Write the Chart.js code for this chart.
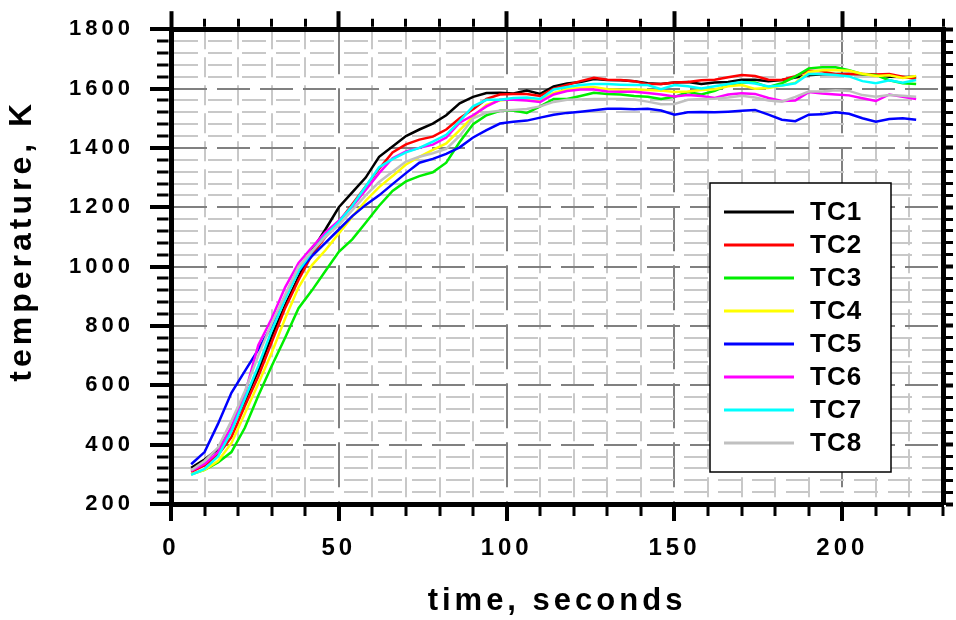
<!DOCTYPE html>
<html>
<head>
<meta charset="utf-8">
<title>TC temperatures</title>
<script src="https://cdn.jsdelivr.net/npm/chart.js@4.4.0/dist/chart.umd.min.js"></script>
<style>
  html, body { margin: 0; padding: 0; background: #fff; }
  canvas { display: block; }
</style>
</head>
<body>
<canvas id="tempChart" width="956" height="620"></canvas>
<script>
// time (s) and thermocouple readings (K)
const times = [6, 10, 14, 18, 22, 26, 30, 34, 38, 42, 46, 50, 54, 58, 62, 66, 70, 74, 78, 82,
    86, 90, 94, 98, 102, 106, 110, 114, 118, 122, 126, 130, 134, 138, 142, 146, 150, 154, 158, 162,
    166, 170, 174, 178, 182, 186, 190, 194, 198, 202, 206, 210, 214, 218, 222];

const tc1 = [322, 350, 385, 453, 546, 650, 765, 870, 965, 1055, 1125, 1200, 1250, 1300, 1370, 1405, 1440, 1462, 1482, 1510,
    1550, 1572, 1585, 1586, 1583, 1593, 1582, 1607, 1617, 1622, 1632, 1629, 1628, 1625, 1618, 1615, 1620, 1622, 1615, 1620,
    1622, 1630, 1630, 1625, 1629, 1637, 1645, 1648, 1649, 1649, 1648, 1646, 1640, 1639, 1640];
const tc2 = [308, 330, 365, 425, 530, 630, 745, 860, 955, 1040, 1100, 1150, 1210, 1270, 1330, 1385, 1412, 1428, 1438, 1462,
    1500, 1530, 1565, 1580, 1582, 1582, 1575, 1600, 1612, 1625, 1636, 1630, 1629, 1625, 1615, 1615, 1620, 1622, 1628, 1630,
    1638, 1646, 1642, 1630, 1629, 1642, 1660, 1658, 1648, 1649, 1649, 1647, 1649, 1640, 1632];
const tc3 = [300, 315, 340, 375, 457, 565, 665, 760, 860, 920, 985, 1050, 1092, 1148, 1205, 1255, 1287, 1305, 1318, 1350,
    1420, 1480, 1510, 1525, 1526, 1518, 1540, 1565, 1565, 1575, 1586, 1582, 1580, 1575, 1572, 1565, 1572, 1588, 1580, 1592,
    1612, 1620, 1620, 1605, 1618, 1640, 1668, 1672, 1672, 1662, 1648, 1645, 1628, 1618, 1615];
const tc4 = [300, 315, 345, 405, 505, 605, 710, 825, 930, 1005, 1055, 1112, 1168, 1222, 1268, 1305, 1344, 1370, 1393, 1415,
    1460, 1505, 1545, 1560, 1565, 1565, 1560, 1585, 1598, 1603, 1605, 1598, 1596, 1598, 1595, 1593, 1588, 1590, 1595, 1598,
    1608, 1612, 1599, 1602, 1610, 1620, 1656, 1662, 1662, 1660, 1650, 1642, 1645, 1636, 1642];
const tc5 = [334, 375, 470, 575, 648, 720, 800, 900, 985, 1035, 1080, 1125, 1170, 1208, 1240, 1278, 1315, 1350, 1363, 1380,
    1402, 1435, 1460, 1482, 1488, 1492, 1502, 1512, 1518, 1522, 1527, 1532, 1532, 1530, 1532, 1526, 1512, 1520, 1521, 1520,
    1522, 1525, 1528, 1512, 1495, 1490, 1512, 1513, 1520, 1515, 1500, 1488, 1497, 1500, 1495];
const tc6 = [312, 335, 375, 460, 570, 735, 825, 930, 1012, 1065, 1115, 1155, 1202, 1258, 1315, 1365, 1388, 1400, 1411, 1435,
    1485, 1510, 1540, 1562, 1562, 1560, 1555, 1580, 1592, 1597, 1597, 1590, 1589, 1589, 1585, 1580, 1573, 1578, 1575, 1568,
    1580, 1584, 1582, 1568, 1558, 1560, 1588, 1583, 1580, 1577, 1567, 1558, 1580, 1572, 1565];
const tc7 = [298, 318, 360, 445, 555, 665, 785, 890, 985, 1050, 1105, 1150, 1205, 1270, 1335, 1362, 1385, 1400, 1421, 1444,
    1490, 1540, 1562, 1562, 1568, 1570, 1565, 1597, 1605, 1612, 1615, 1615, 1613, 1612, 1612, 1598, 1612, 1608, 1600, 1608,
    1615, 1622, 1617, 1607, 1610, 1618, 1649, 1649, 1646, 1641, 1625, 1618, 1628, 1620, 1629];
const tc8 = [314, 345, 390, 480, 580, 700, 808, 905, 1000, 1052, 1100, 1140, 1190, 1240, 1285, 1320, 1354, 1370, 1382, 1397,
    1440, 1500, 1519, 1525, 1528, 1531, 1540, 1555, 1562, 1563, 1565, 1565, 1565, 1563, 1556, 1547, 1548, 1562, 1565, 1566,
    1570, 1576, 1570, 1560, 1556, 1572, 1590, 1590, 1594, 1592, 1578, 1572, 1578, 1576, 1572];

const seriesNames = ['TC1', 'TC2', 'TC3', 'TC4', 'TC5', 'TC6', 'TC7', 'TC8'];
const seriesValues = [tc1, tc2, tc3, tc4, tc5, tc6, tc7, tc8];
const seriesColors = ['#000000', '#ff0000', '#00ee00', '#ffff00', '#0000ff', '#ff00ff', '#00ffff', '#c0c0c0'];

const xTickLabels = [0, 50, 100, 150, 200];
const yTickLabels = [200, 400, 600, 800, 1000, 1200, 1400, 1600, 1800];

const FONT = "'Liberation Sans', Arial, sans-serif";
const MAJOR_GRID = '#808080';
const MINOR_GRID = '#c8c8c8';

function isMajor(c, step) {
    return c.tick !== undefined && c.tick.value % step === 0;
}

// wide, heavy lettering like the original figure
const textSpacing = {
    id: 'textSpacing',
    beforeDraw(chart) {
        chart.ctx.letterSpacing = '4px';
    }
};

// boxed legend sitting inside the plot
const legendBox = {
    id: 'legendBox',
    afterDatasetsDraw(chart) {
        const ctx = chart.ctx;
        const left = 710, top = 183, width = 181, height = 289;
        ctx.save();
        ctx.fillStyle = '#ffffff';
        ctx.fillRect(left, top, width, height);
        ctx.strokeStyle = '#000000';
        ctx.lineWidth = 1.5;
        ctx.strokeRect(left, top, width, height);
        ctx.font = 'bold 26px ' + FONT;
        ctx.letterSpacing = '1px';
        ctx.textBaseline = 'middle';
        ctx.textAlign = 'left';
        chart.data.datasets.forEach((ds, i) => {
            const y = top + 29 + i * 33;
            ctx.strokeStyle = ds.borderColor;
            ctx.lineWidth = 3;
            ctx.beginPath();
            ctx.moveTo(left + 14, y);
            ctx.lineTo(left + 84, y);
            ctx.stroke();
            ctx.fillStyle = '#000000';
            ctx.fillText(ds.label, left + 100, y + 1);
        });
        ctx.restore();
    }
};

const datasets = seriesNames.map((name, i) => ({
    label: name,
    data: times.map((t, j) => ({ x: t, y: seriesValues[i][j] })),
    borderColor: seriesColors[i],
    backgroundColor: seriesColors[i],
    borderWidth: 2.5,
    pointRadius: 0,
    tension: 0,
    order: seriesNames.length - i
}));

new Chart(document.getElementById('tempChart'), {
    type: 'line',
    data: { datasets },
    plugins: [textSpacing, legendBox],
    options: {
        responsive: false,
        animation: false,
        devicePixelRatio: 1,
        layout: { padding: 0 },
        plugins: {
            legend: { display: false },
            tooltip: { enabled: false }
        },
        scales: {
            x: {
                type: 'linear',
                position: 'bottom',
                min: 0,
                max: 230,
                afterFit: s => { s.height = 116; },
                ticks: {
                    stepSize: 10,
                    autoSkip: false,
                    maxRotation: 0,
                    maxTicksLimit: 100,
                    padding: 13,
                    color: '#000',
                    font: { family: FONT, size: 24, weight: 'bold' },
                    callback: v => xTickLabels.includes(v) ? String(v) : ''
                },
                grid: {
                    color: c => isMajor(c, 50) ? MAJOR_GRID : MINOR_GRID,
                    lineWidth: 2,
                    tickLength: 17,
                    tickColor: '#000',
                    tickWidth: c => isMajor(c, 50) ? 4 : 3,
                    tickBorderDash: c => isMajor(c, 50) ? [] : [9, 100]
                },
                border: {
                    color: '#000',
                    width: 5,
                    dash: c => c.tick === undefined ? [] : (isMajor(c, 50) ? [45, 14] : [20, 8])
                },
                title: {
                    display: true,
                    text: 'time, seconds',
                    color: '#000',
                    font: { family: FONT, size: 31, weight: 'bold' },
                    padding: 0
                }
            },
            xTop: {
                type: 'linear',
                position: 'top',
                min: 0,
                max: 230,
                afterFit: s => { s.height = 26; },
                ticks: { display: false, stepSize: 10, autoSkip: false, maxTicksLimit: 100 },
                grid: {
                    drawOnChartArea: false,
                    tickLength: 18,
                    tickColor: '#000',
                    tickWidth: c => isMajor(c, 50) ? 4 : 3,
                    tickBorderDash: c => isMajor(c, 50) ? [] : [0, 7.5, 8, 100]
                },
                border: { color: '#000', width: 5 }
            },
            y: {
                type: 'linear',
                position: 'left',
                min: 200,
                max: 1800,
                afterFit: s => { s.width = 171; },
                ticks: {
                    stepSize: 40,
                    autoSkip: false,
                    maxTicksLimit: 100,
                    padding: 16,
                    color: '#000',
                    font: { family: FONT, size: 22, weight: 'bold' },
                    callback: v => yTickLabels.includes(v) ? String(v) : ''
                },
                grid: {
                    color: c => isMajor(c, 200) ? MAJOR_GRID : MINOR_GRID,
                    lineWidth: 2,
                    tickLength: 21,
                    tickColor: '#000',
                    tickWidth: c => isMajor(c, 200) ? 4 : 3,
                    tickBorderDash: c => isMajor(c, 200) ? [] : [0, 7, 11.5, 100]
                },
                border: {
                    color: '#000',
                    width: 5,
                    dash: c => c.tick === undefined ? [] : (isMajor(c, 200) ? [33, 10] : [24, 10])
                },
                title: {
                    display: true,
                    // leading spaces lift the rotated title a little above the axis middle
                    text: '    temperature, K',
                    color: '#000',
                    font: { family: FONT, size: 32, weight: 'bold' },
                    padding: { top: 3, bottom: 0 }
                }
            },
            yRight: {
                type: 'linear',
                position: 'right',
                min: 200,
                max: 1800,
                afterFit: s => { s.width = 10; },
                ticks: { display: false, stepSize: 40, autoSkip: false, maxTicksLimit: 100 },
                grid: {
                    drawOnChartArea: false,
                    tickLength: 10,
                    tickColor: '#000',
                    tickWidth: c => isMajor(c, 200) ? 4 : 3
                },
                border: { color: '#000', width: 5 }
            }
        }
    }
});
</script>
</body>
</html>
